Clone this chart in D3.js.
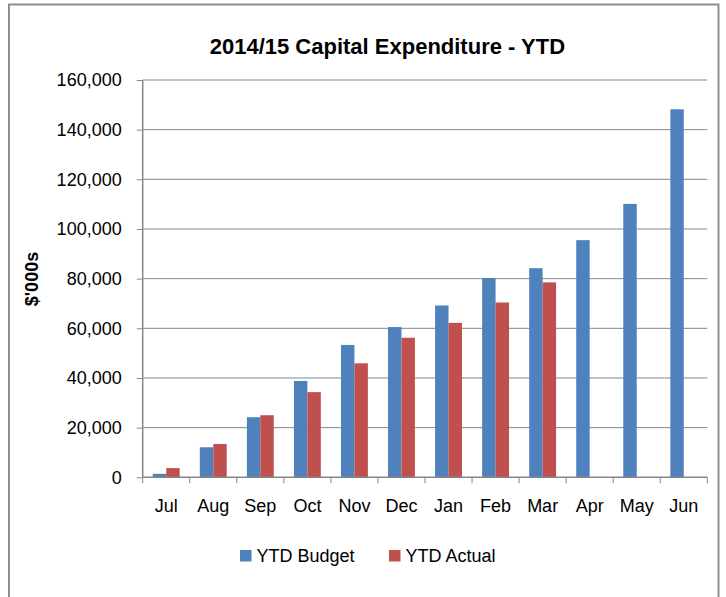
<!DOCTYPE html>
<html>
<head>
<meta charset="utf-8">
<script src="https://cdn.jsdelivr.net/npm/d3@7/dist/d3.min.js"></script>
<style>
  html, body { margin: 0; padding: 0; background: #fff; }
  svg { display: block; }
  text { font-family: "Liberation Sans", Arial, sans-serif; fill: #000; }
</style>
</head>
<body>
<svg id="chart" width="726" height="597"></svg>
<script>
const months = ["Jul","Aug","Sep","Oct","Nov","Dec","Jan","Feb","Mar","Apr","May","Jun"];
const ytdBudget = [1400, 12100, 24200, 38800, 53300, 60500, 69200, 80200, 84200, 95500, 110100, 148200];
const ytdActual = [3700, 13400, 25000, 34300, 45900, 56200, 62200, 70400, 78500, null, null, null];
const yTicks = [0, 20000, 40000, 60000, 80000, 100000, 120000, 140000, 160000];
const seriesNames = ["YTD Budget", "YTD Actual"];
const seriesColors = ["#4F81BD", "#C0504D"];
const titleText = "2014/15 Capital Expenditure - YTD";
const yTitle = "$'000s";

(function () {
const svg = d3.select("#chart");
const pL = 142.7, pR = 707.3, pT = 80, pB = 477.3;

// outer frame
svg.append("rect").attr("x", 9).attr("y", 4.5).attr("width", 709.5).attr("height", 640)
  .attr("fill", "none").attr("stroke", "#8f8f8f").attr("stroke-width", 2);

const x = d3.scaleBand().domain(months).range([pL, pR]).paddingInner(0).paddingOuter(0);
const y = d3.scaleLinear().domain([0, 160000]).range([pB, pT]);
const bw = x.bandwidth() / 3.5;

// gridlines
svg.append("g").selectAll("line").data(yTicks.filter(d => d > 0)).join("line")
  .attr("x1", pL).attr("x2", pR)
  .attr("y1", d => y(d)).attr("y2", d => y(d))
  .attr("stroke", "#868686").attr("stroke-width", 1);

// bars
const data = months.map((m, i) => ({ m, b: ytdBudget[i], a: ytdActual[i] }));
svg.append("g").selectAll("rect").data(data).join("rect")
  .attr("x", d => x(d.m) + x.bandwidth() / 2 - bw)
  .attr("width", bw)
  .attr("y", d => y(d.b))
  .attr("height", d => y(0) - y(d.b))
  .attr("fill", seriesColors[0]);
svg.append("g").selectAll("rect").data(data.filter(d => d.a != null)).join("rect")
  .attr("x", d => x(d.m) + x.bandwidth() / 2)
  .attr("width", bw)
  .attr("y", d => y(d.a))
  .attr("height", d => y(0) - y(d.a))
  .attr("fill", seriesColors[1]);

// y axis
const yAxis = svg.append("g").attr("transform", `translate(${pL},0)`)
  .call(d3.axisLeft(y).tickValues(yTicks).tickSize(6).tickPadding(15).tickFormat(d3.format(",")));
yAxis.select(".domain").attr("stroke", "#868686").attr("stroke-width", 1.5).attr("d", `M0,${pT}V${pB}`);
yAxis.selectAll(".tick line").attr("stroke", "#868686");
yAxis.selectAll("text").style("font-size", "18px").attr("fill", "#000");

// x axis
const xAxis = svg.append("g").attr("transform", `translate(0,${pB})`)
  .call(d3.axisBottom(x).tickSize(0).tickPadding(21.6));
xAxis.select(".domain").attr("stroke", "#868686").attr("stroke-width", 1.5).attr("d", `M${pL},0H${pR}`);
xAxis.selectAll("text").style("font-size", "18px").attr("fill", "#000");
const bounds = months.map(m => x(m)).concat([x(months[months.length - 1]) + x.bandwidth()]);
xAxis.append("g").selectAll("line").data(bounds).join("line")
  .attr("x1", d => d).attr("x2", d => d).attr("y1", 0).attr("y2", 6)
  .attr("stroke", "#868686").attr("stroke-width", 1);

// title
svg.append("text").attr("x", 387.4).attr("y", 54.3).attr("text-anchor", "middle")
  .style("font-size", "22px").style("font-weight", "bold").text(titleText);

// y title
svg.append("text").attr("transform", "translate(38,279) rotate(-90)").attr("text-anchor", "middle")
  .style("font-size", "18px").style("font-weight", "bold").text(yTitle);

// legend
const legX = [240, 389];
const lg = svg.append("g").selectAll("g").data(seriesNames).join("g");
lg.append("rect").attr("x", (d, i) => legX[i]).attr("y", 550).attr("width", 11.5).attr("height", 11.5)
  .attr("fill", (d, i) => seriesColors[i]);
lg.append("text").attr("x", (d, i) => legX[i] + 16.5).attr("y", 561.5)
  .style("font-size", "18px").text(d => d);
})();
</script>
</body>
</html>
